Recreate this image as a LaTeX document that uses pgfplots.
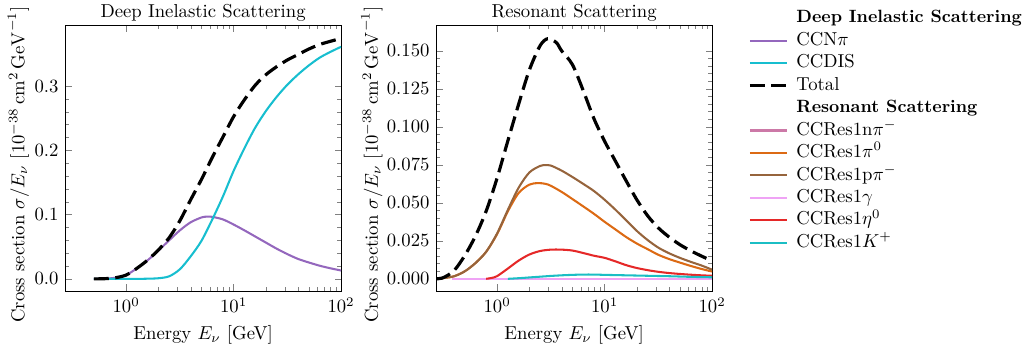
\documentclass[border=0pt]{standalone}
\usepackage{pgfplots}
\pgfplotsset{compat=1.18}
\definecolor{cpurple}{HTML}{9467BD}
\definecolor{ccyan}{HTML}{17BECF}
\definecolor{cpink}{HTML}{CC79A7}
\definecolor{corange}{HTML}{DC6A14}
\definecolor{cbrown}{HTML}{96643C}
\definecolor{clpink}{HTML}{EFA3F5}
\definecolor{cred}{HTML}{E52828}
\definecolor{cteal}{HTML}{1BBEC4}
\tikzset{totstyle/.style={black, line width=1.7pt, dash pattern=on 8pt off 3.5pt}}
\newcommand{\hdr}[1]{{\fontsize{9.5pt}{11pt}\selectfont\bfseries #1}}
\begin{document}
\begin{tikzpicture}
\useasboundingbox (0,0) rectangle (547.6pt,184.5pt);
\begin{axis}[
  scale only axis, width=147.6pt, height=142.2pt,
  at={(34.8pt,28.9pt)}, anchor=south west,
  xmode=log, xmin=0.27, xmax=100,
  xtick={1,10,100},
  tick align=inside, tick pos=both,
  major tick length=3.5pt, minor tick length=2pt,
  minor y tick num=4,
  xlabel={Energy $E_\nu$ [GeV]},
  ylabel={Cross section $\sigma/E_\nu$ [$10^{-38}\,\mathrm{cm}^2\,\mathrm{GeV}^{-1}$]},
  ylabel style={at={(axis description cs:-0.107,0.475)}, anchor=south},
  title={Deep Inelastic Scattering},
  title style={yshift=-7.5pt},
  ymin=-0.0188, ymax=0.3948,
  ytick={0,0.1,0.2,0.3},
  yticklabel style={/pgf/number format/.cd, fixed, fixed zerofill, precision=1},
]
% CCNpi
\addplot[cpurple, line width=1.1pt, smooth, tension=0.5] coordinates {(0.5,0) (0.631,0.0003) (0.794,0.0018) (1,0.006) (1.259,0.0165) (1.585,0.029) (1.995,0.044) (2.512,0.060) (3.162,0.0755) (3.981,0.088) (5.012,0.0955) (5.623,0.0968) (6.310,0.0965) (7.943,0.0925) (10,0.0845) (12.59,0.0755) (15.85,0.066) (19.95,0.0565) (25.12,0.047) (31.62,0.0385) (39.81,0.031) (50.12,0.0255) (63.10,0.0205) (79.43,0.0165) (100,0.013)};
% CCDIS
\addplot[ccyan, line width=1.1pt, smooth, tension=0.5] coordinates {(0.5,0) (0.631,0) (0.794,0) (1,0) (1.259,0) (1.585,0.0003) (1.995,0.001) (2.512,0.004) (3.162,0.015) (3.981,0.035) (5.012,0.059) (6.310,0.092) (7.943,0.128) (10,0.168) (12.59,0.203) (15.85,0.235) (19.95,0.261) (25.12,0.283) (31.62,0.302) (39.81,0.318) (50.12,0.332) (63.10,0.344) (79.43,0.353) (100,0.361)};
% Total
\addplot[totstyle, smooth, tension=0.5] coordinates {(0.5,0) (0.631,0.0003) (0.794,0.0018) (1,0.006) (1.259,0.0165) (1.585,0.0293) (1.995,0.045) (2.512,0.064) (3.162,0.0905) (3.981,0.123) (5.012,0.1545) (6.310,0.1885) (7.943,0.2205) (10,0.2525) (12.59,0.2785) (15.85,0.301) (19.95,0.3175) (25.12,0.330) (31.62,0.3405) (39.81,0.349) (50.12,0.3575) (63.10,0.3645) (79.43,0.3695) (100,0.374)};
\end{axis}
\begin{axis}[
  scale only axis, width=147.6pt, height=142.2pt,
  at={(233.2pt,28.9pt)}, anchor=south west,
  xmode=log, xmin=0.27, xmax=100,
  xtick={1,10,100},
  tick align=inside, tick pos=both,
  major tick length=3.5pt, minor tick length=2pt,
  minor y tick num=4,
  xlabel={Energy $E_\nu$ [GeV]},
  ylabel={Cross section $\sigma/E_\nu$ [$10^{-38}\,\mathrm{cm}^2\,\mathrm{GeV}^{-1}$]},
  ylabel style={at={(axis description cs:-0.17,0.475)}, anchor=south},
  title={Resonant Scattering},
  title style={yshift=-7.5pt},
  ymin=-0.008, ymax=0.167,
  ytick={0,0.025,0.05,0.075,0.1,0.125,0.15},
  yticklabel style={/pgf/number format/.cd, fixed, fixed zerofill, precision=3},
  legend image code/.code={\draw[#1] (0pt,0pt) -- (20pt,0pt);},
  legend cell align=left,
  legend style={draw=none, fill=none, inner sep=0pt, row sep=0pt, column sep=3pt,
    at={(1.130,1.069)}, anchor=north west,
    nodes={text height=7.5pt, text depth=2.5pt, inner ysep=1pt, inner xsep=1pt}},
]
\addlegendimage{empty legend}\addlegendentry{\hdr{Deep Inelastic Scattering}}
\addlegendimage{cpurple, line width=1.1pt}\addlegendentry{CCN$\pi$}
\addlegendimage{ccyan, line width=1.1pt}\addlegendentry{CCDIS}
\addlegendimage{totstyle}\addlegendentry{Total}
\addlegendimage{empty legend}\addlegendentry{\hdr{Resonant Scattering}}
\addplot[cpink, line width=1.1pt] coordinates {(0.38,0) (100,0)};
\addlegendentry{CCRes1n$\pi^-$}
\addplot[corange, line width=1.1pt, smooth, tension=0.5] coordinates {(0.27,0) (0.316,0.0005) (0.398,0.0017) (0.501,0.005) (0.631,0.0105) (0.794,0.018) (1,0.0295) (1.259,0.0445) (1.585,0.0565) (1.995,0.062) (2.399,0.063) (2.818,0.0625) (3.162,0.0612) (3.981,0.0572) (5.012,0.0525) (6.310,0.0477) (7.943,0.0428) (10,0.0375) (12.59,0.0325) (15.85,0.0275) (19.95,0.0232) (25.12,0.0195) (31.62,0.0158) (39.81,0.013) (50.12,0.0107) (63.10,0.0085) (79.43,0.0065) (100,0.0048)};
\addlegendentry{CCRes1$\pi^0$}
\addplot[cbrown, line width=1.1pt, smooth, tension=0.5] coordinates {(0.27,0) (0.316,0.0005) (0.398,0.0017) (0.501,0.005) (0.631,0.0105) (0.794,0.018) (1,0.030) (1.259,0.0455) (1.585,0.060) (1.995,0.070) (2.512,0.0743) (2.818,0.0748) (3.162,0.0745) (3.981,0.0712) (5.012,0.067) (6.310,0.0625) (7.943,0.0578) (10,0.052) (12.59,0.0455) (15.85,0.0385) (19.95,0.0315) (25.12,0.0255) (31.62,0.0205) (39.81,0.0168) (50.12,0.0138) (63.10,0.0112) (79.43,0.0088) (100,0.0060)};
\addlegendentry{CCRes1p$\pi^-$}
\addplot[clpink, line width=1.1pt] coordinates {(0.38,0) (100,0)};
\addlegendentry{CCRes1$\gamma$}
\addplot[cred, line width=1.1pt, smooth, tension=0.5] coordinates {(0.79,0) (0.891,0.0006) (1,0.0018) (1.259,0.0068) (1.585,0.012) (1.995,0.016) (2.512,0.0183) (3.162,0.0192) (3.981,0.0192) (5.012,0.0186) (6.310,0.017) (7.943,0.0152) (10,0.0138) (12.59,0.0115) (15.85,0.009) (19.95,0.0071) (25.12,0.0057) (31.62,0.0046) (39.81,0.0038) (50.12,0.0032) (63.10,0.0027) (79.43,0.0023) (100,0.002)};
\addlegendentry{CCRes1$\eta^0$}
\addplot[cteal, line width=1.1pt, smooth, tension=0.5] coordinates {(1.259,0) (1.585,0.0004) (1.995,0.0009) (2.512,0.0014) (3.162,0.0019) (3.981,0.0023) (5.012,0.0026) (6.310,0.0028) (7.943,0.0028) (10,0.0026) (15.85,0.0023) (25.12,0.002) (39.81,0.0017) (63.10,0.0013) (100,0.001)};
\addlegendentry{CCRes1$K^+$}
\addplot[totstyle, smooth, tension=0.5, forget plot] coordinates {(0.27,0) (0.316,0.0008) (0.398,0.0055) (0.501,0.0155) (0.631,0.0285) (0.794,0.045) (1,0.0665) (1.259,0.091) (1.585,0.115) (1.995,0.1375) (2.512,0.1535) (2.951,0.158) (3.548,0.1555) (3.981,0.150) (5.012,0.141) (6.310,0.124) (7.943,0.1055) (10,0.0905) (12.59,0.0775) (15.85,0.0645) (19.95,0.052) (25.12,0.0415) (31.62,0.0335) (39.81,0.0275) (50.12,0.0225) (63.10,0.0185) (79.43,0.015) (100,0.0118)};
\end{axis}
\end{tikzpicture}
\end{document}
